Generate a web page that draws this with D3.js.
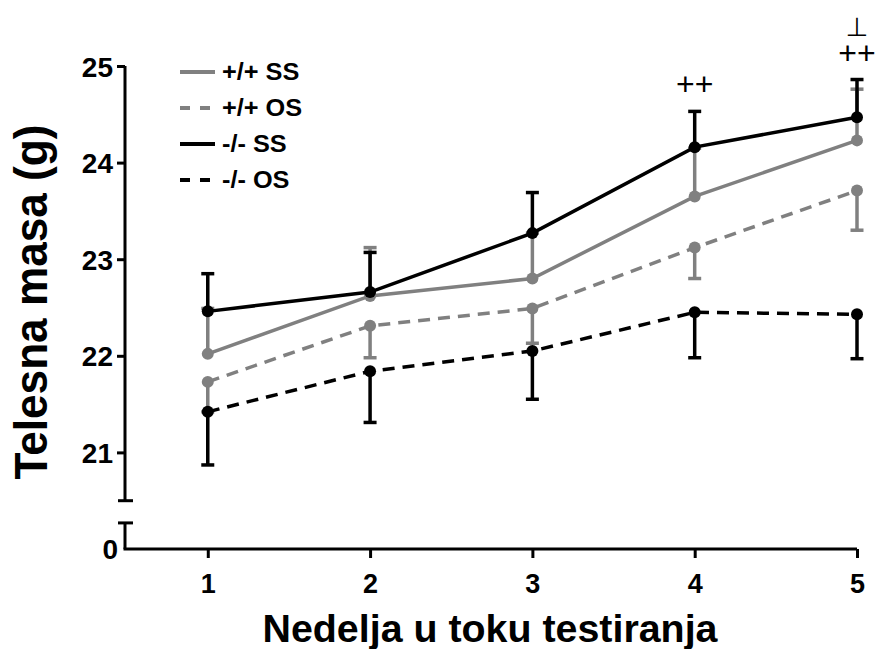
<!DOCTYPE html>
<html>
<head>
<meta charset="utf-8">
<script src="https://cdn.jsdelivr.net/npm/d3@7"></script>
<style>
  body { margin: 0; background: #fff; }
  svg { display: block; font-family: "Liberation Sans", Arial, sans-serif; }
</style>
</head>
<body>
<svg width="876" height="649"></svg>
<script>
// data
var weeks = [1, 2, 3, 4, 5];
var wtSS = [22.02, 22.62, 22.80, 23.65, 24.23],
	wtSSsem = [0.47, 0.50, 0.47, 0.50, 0.53];
var wtOS = [21.73, 22.31, 22.49, 23.12, 23.71],
	wtOSsem = [0.31, 0.33, 0.36, 0.32, 0.41];
var koSS = [22.46, 22.66, 23.27, 24.16, 24.47],
	koSSsem = [0.39, 0.41, 0.42, 0.37, 0.39];
var koOS = [21.42, 21.84, 22.05, 22.45, 22.43],
	koOSsem = [0.55, 0.53, 0.50, 0.47, 0.46];
var seriesNames = ["+/+ SS", "+/+ OS", "-/- SS", "-/- OS"];
var yTicks = [21, 22, 23, 24, 25];
var notes = [
	{week: 4, text: "++", row: 0},
	{week: 5, text: "++", row: 0},
	{week: 5, text: "\u22A5", row: 1}
];

var gray = "#808080";
var series = [
	{name: seriesNames[0], mean: wtSS, sem: wtSSsem, dir: 1, color: gray, dash: null},
	{name: seriesNames[1], mean: wtOS, sem: wtOSsem, dir: -1, color: gray, dash: "12,8"},
	{name: seriesNames[2], mean: koSS, sem: koSSsem, dir: 1, color: "#000", dash: null},
	{name: seriesNames[3], mean: koOS, sem: koOSsem, dir: -1, color: "#000", dash: "12,8"}
];

var svg = d3.select("svg");

var x = d3.scaleLinear().domain([0.49, 5]).range([125, 857]);
// lower end of the scale (20) is drawn as the "0" after the break
var y = d3.scaleLinear().domain([20, 25]).range([549, 66]);
var axisX = 125, breakTop = 20.5, breakBottom = 20.27;

// y axis, upper part
var gy = svg.append("g")
	.attr("class", "axis axis--y")
	.attr("transform", "translate(" + axisX + ",0)")
	.call(d3.axisLeft(y).tickValues(yTicks).tickFormat(d3.format("d")).tickSize(8).tickSizeOuter(0).tickPadding(4));
gy.select(".domain").remove();
gy.append("line")
	.attr("y1", y(25)).attr("y2", y(breakTop))
	.attr("stroke", "#000").attr("stroke-width", 3);
gy.append("line")
	.attr("x1", -7).attr("x2", 8)
	.attr("y1", y(breakTop)).attr("y2", y(breakTop))
	.attr("stroke", "#000").attr("stroke-width", 3);
// lower part with the zero
gy.append("line")
	.attr("y1", y(breakBottom)).attr("y2", y(20))
	.attr("stroke", "#000").attr("stroke-width", 3);
gy.append("line")
	.attr("x1", -7).attr("x2", 8)
	.attr("y1", y(breakBottom)).attr("y2", y(breakBottom))
	.attr("stroke", "#000").attr("stroke-width", 3);
gy.append("g")
	.attr("class", "tick")
	.attr("transform", "translate(0," + y(20) + ")")
	.append("text")
	.attr("x", -7)
	.attr("dy", "0.35em")
	.attr("text-anchor", "end")
	.text("0");
gy.selectAll(".tick line").attr("stroke-width", 3);
gy.selectAll("text")
	.attr("fill", "#000")
	.attr("dy", "0.36em")
	.style("font-size", "28px").style("font-weight", "bold")
	.style("font-family", "'Liberation Sans', Arial, sans-serif");

// x axis
var gx = svg.append("g")
	.attr("class", "axis axis--x")
	.attr("transform", "translate(0," + y(20) + ")")
	.call(d3.axisBottom(x).tickValues(weeks).tickFormat(d3.format("d")).tickSize(9).tickSizeOuter(0).tickPadding(16));
gx.select(".domain").attr("stroke-width", 3).attr("d", "M" + (axisX - 1.5) + ",0H" + x(5));
gx.selectAll(".tick line").attr("stroke-width", 3);
gx.selectAll("text")
	.attr("fill", "#000")
	.style("font-size", "27px").style("font-weight", "bold")
	.style("font-family", "'Liberation Sans', Arial, sans-serif");

// titles
svg.append("text")
	.attr("transform", "translate(47,302) rotate(-90)")
	.attr("text-anchor", "middle")
	.attr("textLength", 355).attr("lengthAdjust", "spacingAndGlyphs")
	.style("font-size", "46px").style("font-weight", "bold")
	.text("Telesna masa (g)");
svg.append("text")
	.attr("x", 490).attr("y", 642)
	.attr("text-anchor", "middle")
	.attr("textLength", 455).attr("lengthAdjust", "spacingAndGlyphs")
	.style("font-size", "38px").style("font-weight", "bold")
	.text("Nedelja u toku testiranja");

// series
var line = d3.line()
	.x(function(d, i) { return x(weeks[i]); })
	.y(function(d) { return y(d); });

series.forEach(function(s) {
	var g = svg.append("g").attr("class", "series");
	weeks.forEach(function(w, i) {
		var end = s.mean[i] + s.dir * s.sem[i];
		g.append("line")
			.attr("x1", x(w)).attr("x2", x(w))
			.attr("y1", y(s.mean[i])).attr("y2", y(end))
			.attr("stroke", s.color).attr("stroke-width", 3.5);
		g.append("line")
			.attr("x1", x(w) - 6.5).attr("x2", x(w) + 6.5)
			.attr("y1", y(end)).attr("y2", y(end))
			.attr("stroke", s.color).attr("stroke-width", 3.5);
	});
	g.append("path")
		.datum(s.mean)
		.attr("fill", "none")
		.attr("stroke", s.color)
		.attr("stroke-width", 3.5)
		.attr("stroke-dasharray", s.dash)
		.attr("d", line);
	g.selectAll("circle")
		.data(s.mean)
		.enter().append("circle")
		.attr("cx", function(d, i) { return x(weeks[i]); })
		.attr("cy", function(d) { return y(d); })
		.attr("r", 6)
		.attr("fill", s.color);
});

// significance marks above the -/- SS error bars
notes.forEach(function(n) {
	var i = weeks.indexOf(n.week);
	var top = y(koSS[i] + koSSsem[i]);
	svg.append("text")
		.attr("x", x(n.week))
		.attr("y", top - 16 - n.row * 28)
		.attr("text-anchor", "middle")
		.style("font-size", n.row ? "26px" : "32px")
		.style("font-family", n.row ? "'DejaVu Sans', sans-serif" : "'Liberation Sans', Arial, sans-serif")
		.text(n.text);
});

// legend
var legend = svg.append("g").attr("class", "legend");
series.forEach(function(s, i) {
	var ly = 72 + i * 36;
	legend.append("line")
		.attr("x1", 180).attr("x2", 215)
		.attr("y1", ly).attr("y2", ly)
		.attr("stroke", s.color).attr("stroke-width", 4)
		.attr("stroke-dasharray", s.dash ? "10,10" : null);
	legend.append("text")
		.attr("transform", "translate(222," + ly + ") scale(1.1,1)")
		.attr("dy", "0.36em")
		.style("font-size", "23px").style("font-weight", "bold")
		.text(s.name);
});
</script>
</body>
</html>
